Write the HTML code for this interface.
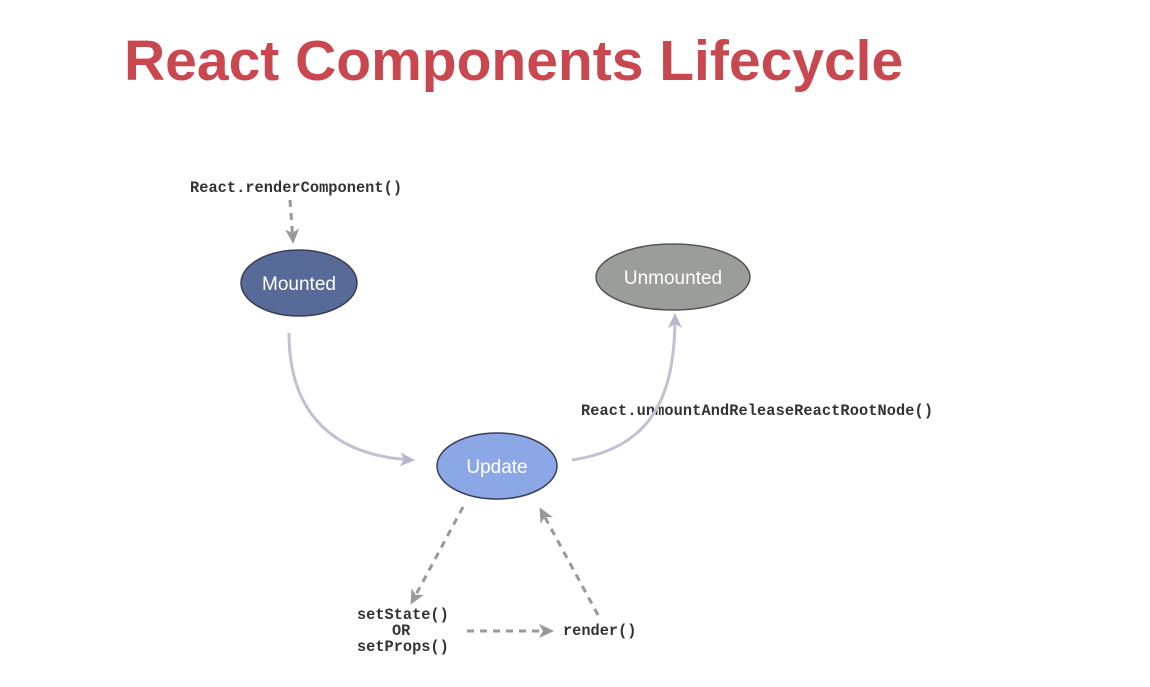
<!DOCTYPE html>
<html><head><meta charset="utf-8"><style>
html,body{margin:0;padding:0;background:#fff;}
svg{display:block}
</style></head><body>
<svg width="1150" height="687" viewBox="0 0 1150 687" xmlns="http://www.w3.org/2000/svg">
<defs>
<marker id="ga" markerWidth="16" markerHeight="16" refX="12" refY="8" orient="auto" markerUnits="userSpaceOnUse"><path d="M0,1 L15,8 L0,15 L4,8 z" fill="#999"/></marker>
<marker id="pa" markerWidth="16" markerHeight="16" refX="12" refY="8" orient="auto" markerUnits="userSpaceOnUse"><path d="M0,1 L15,8 L0,15 L4,8 z" fill="#b9b5cc"/></marker>
</defs>
<text x="124" y="80" font-family="Liberation Sans, sans-serif" font-weight="bold" font-size="57" fill="#c9474f">React Components Lifecycle</text>

<g font-family="Liberation Mono, monospace" font-size="15.3" fill="#333" font-weight="bold">
<text x="190" y="192" textLength="212">React.renderComponent()</text>
<text x="581" y="415" textLength="352">React.unmountAndReleaseReactRootNode()</text>
<text x="357" y="619">setState()</text>
<text x="392" y="635">OR</text>
<text x="357" y="651">setProps()</text>
<text x="563" y="635">render()</text>
</g>

<g stroke="#999" stroke-width="3" stroke-dasharray="7,6" fill="none">
<line x1="290" y1="200" x2="293" y2="241" marker-end="url(#ga)"/>
<line x1="463" y1="507" x2="412" y2="602" marker-end="url(#ga)"/>
<line x1="467" y1="631" x2="551" y2="631" marker-end="url(#ga)"/>
<line x1="598" y1="615" x2="541" y2="510" marker-end="url(#ga)"/>
</g>

<g stroke="#c4c0d4" stroke-width="3" fill="none">
<path d="M289,333 C289,400 320,455 412,460" marker-end="url(#pa)"/>
<path d="M572,460 C650,448 675,400 675,316" marker-end="url(#pa)"/>
</g>

<g font-family="Liberation Sans, DejaVu Sans, sans-serif" font-size="19" fill="#fff" text-anchor="middle">
<ellipse cx="299" cy="283" rx="58" ry="33" fill="#576a98" stroke="#3a3f55" stroke-width="1.5"/>
<text x="299" y="290">Mounted</text>
<ellipse cx="673" cy="277" rx="77" ry="33" fill="#9a9d98" stroke="#555" stroke-width="1.5"/>
<text x="673" y="284">Unmounted</text>
<ellipse cx="497" cy="466" rx="60" ry="33" fill="#8ca7e6" stroke="#3a3f55" stroke-width="1.5"/>
<text x="497" y="473">Update</text>
</g>
</svg>
</body></html>
